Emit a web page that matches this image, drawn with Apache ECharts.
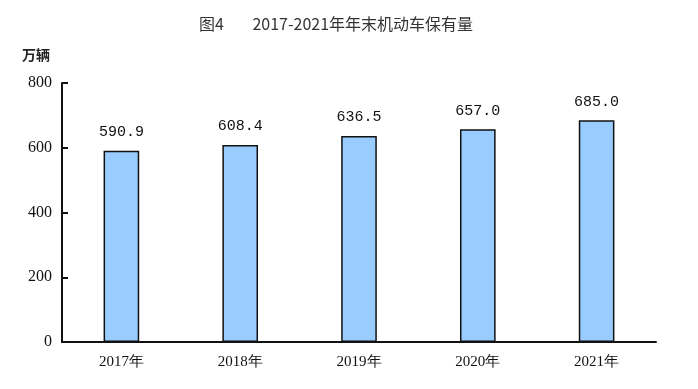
<!DOCTYPE html>
<html><head><meta charset="utf-8">
<script src="https://cdn.jsdelivr.net/npm/echarts@6/dist/echarts.min.js"></script>
<style>html,body{margin:0;padding:0;background:#fff}#c{width:698px;height:389px}</style>
</head><body><div id="c"></div>
<script>
const categories = ['2017年','2018年','2019年','2020年','2021年'];
const values = [590.9, 608.4, 636.5, 657.0, 685.0];
const yTicks = [0, 200, 400, 600, 800];

const chart = echarts.init(document.getElementById('c'));
chart.setOption({
  animation: false,
  title: {
    text: '图4\u00a0\u00a0\u00a0\u00a0\u00a0\u00a0\u00a0\u00a02017-2021年年末机动车保有量',
    left: 331, textAlign: 'center', top: 11,
    textStyle: {fontFamily: 'Noto Sans CJK SC', fontSize: 16, fontWeight: 'normal', color: '#333'}
  },
  graphic: [{type: 'text', left: 22, top: 48, style: {text: '万辆', font: 'bold 14px "Noto Sans CJK SC"', fill: '#222'}}],
  grid: {left: 62, right: 42, top: 83, bottom: 47},
  xAxis: {
    type: 'category', data: categories,
    axisLine: {lineStyle: {color: '#111', width: 2}},
    axisTick: {show: false},
    axisLabel: {fontFamily: 'Liberation Serif, serif', fontSize: 15, color: '#111', margin: 13}
  },
  yAxis: {
    type: 'value', min: yTicks[0], max: yTicks[yTicks.length-1], interval: 200,
    axisLine: {show: true, lineStyle: {color: '#111', width: 2}},
    axisTick: {show: true, inside: true, length: 6, lineStyle: {color: '#111', width: 2}},
    splitLine: {show: false},
    axisLabel: {fontFamily: 'Liberation Serif, serif', fontSize: 16, color: '#111', margin: 10}
  },
  series: [{
    type: 'bar', data: values, barWidth: '30%',
    itemStyle: {color: '#99ccff', borderColor: '#111', borderWidth: 1.5},
    label: {show: true, position: 'top', distance: 11, formatter: p => p.value.toFixed(1),
      fontFamily: 'Liberation Mono, monospace', fontSize: 15, color: '#111'}
  }]
});
</script></body></html>
